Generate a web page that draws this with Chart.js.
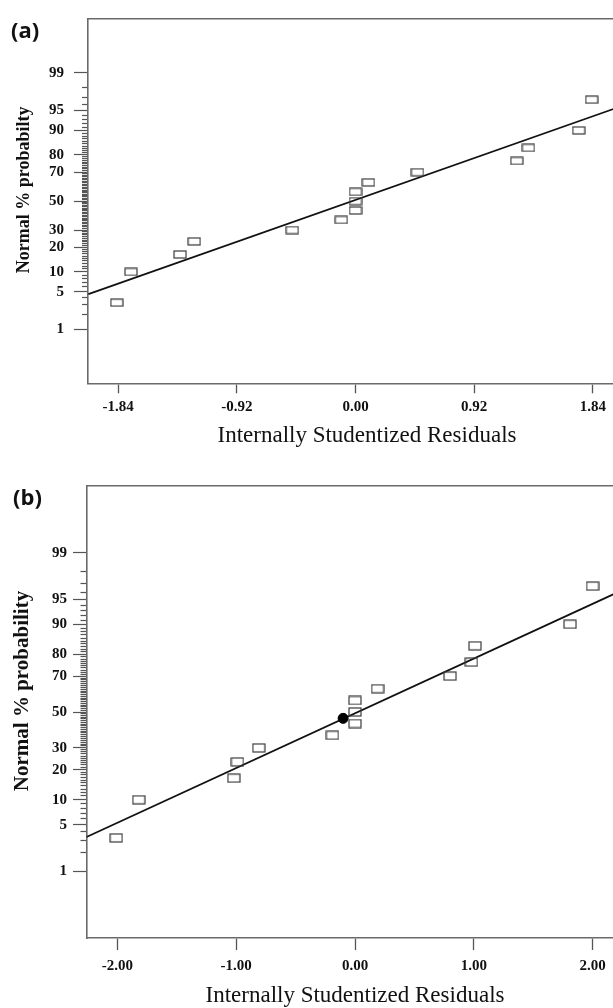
<!DOCTYPE html>
<html>
<head>
<meta charset="utf-8">
<script src="https://cdn.jsdelivr.net/npm/chart.js@4.4.1/dist/chart.umd.min.js"></script>
<style>
  html, body { margin: 0; padding: 0; background: #fff; overflow: hidden; }
  body { width: 613px; height: 1008px; position: relative; }
  canvas { position: absolute; left: 0; }
  .tag { position: absolute; font-family: "Open Sans", sans-serif; font-weight: bold; font-size: 22px; line-height: 1; color: #111; }
</style>
</head>
<body>
<canvas id="chartA" width="640" height="450" style="top:0"></canvas>
<canvas id="chartB" width="640" height="540" style="top:470px"></canvas>
<div class="tag" style="left:11px;top:18px">(a)</div>
<div class="tag" style="left:13px;top:485px">(b)</div>
<script>
// normal probability ticks (%)
var majorProbs = [1, 5, 10, 20, 30, 50, 70, 80, 90, 95, 99];

// panel (a)
var residA = [-1.85, -1.74, -1.36, -1.25, -0.49, -0.11, 0.00, 0.00, 0.00, 0.10, 0.48, 1.25, 1.34, 1.73, 1.83];
var probA = [3.3, 10, 16.7, 23.3, 30, 36.7, 43.3, 50, 56.7, 63.3, 70, 76.7, 83.3, 90, 96.7];
var lineResidA = [-2.07, 2.07];
var lineProbA = [4.6, 95.8];
var xTicksA = [-1.84, -0.92, 0.00, 0.92, 1.84];

// panel (b)
var residB = [-2.01, -1.82, -1.02, -0.99, -0.81, -0.19, 0.00, 0.00, 0.00, 0.19, 0.80, 0.98, 1.01, 1.81, 2.00];
var probB = [3.3, 10, 16.7, 23.3, 30, 36.7, 43.3, 50, 56.7, 63.3, 70, 76.7, 83.3, 90, 96.7];
var markResidB = [-0.10];
var markProbB = [46.3];
var lineResidB = [-2.26, 2.26];
var lineProbB = [3.4, 96.3];
var xTicksB = [-2.00, -1.00, 0.00, 1.00, 2.00];

var SERIF = "'Liberation Serif', 'Times New Roman', serif";

// inverse normal cdf (Acklam)
function probit(p) {
    var a = [-3.969683028665376e+01, 2.209460984245205e+02, -2.759285104469687e+02, 1.383577518672690e+02, -3.066479806614716e+01, 2.506628277459239e+00];
    var b = [-5.447609879822406e+01, 1.615858368580409e+02, -1.556989798598866e+02, 6.680131188771972e+01, -1.328068155288572e+01];
    var c = [-7.784894002430293e-03, -3.223964580411365e-01, -2.400758277161838e+00, -2.549671010229528e+00, 4.374664141464968e+00, 2.938163982698783e+00];
    var d = [7.784695709041462e-03, 3.224671290700398e-01, 2.445134137142996e+00, 3.754408661907416e+00];
    var pl = 0.02425, q, r;
    if (p < pl) {
        q = Math.sqrt(-2 * Math.log(p));
        return (((((c[0]*q+c[1])*q+c[2])*q+c[3])*q+c[4])*q+c[5]) / ((((d[0]*q+d[1])*q+d[2])*q+d[3])*q+1);
    }
    if (p > 1 - pl) {
        q = Math.sqrt(-2 * Math.log(1 - p));
        return -(((((c[0]*q+c[1])*q+c[2])*q+c[3])*q+c[4])*q+c[5]) / ((((d[0]*q+d[1])*q+d[2])*q+d[3])*q+1);
    }
    q = p - 0.5;
    r = q * q;
    return (((((a[0]*r+a[1])*r+a[2])*r+a[3])*r+a[4])*r+a[5])*q / (((((b[0]*r+b[1])*r+b[2])*r+b[3])*r+b[4])*r+1);
}

function toPoints(xs, ps) {
    return xs.map(function(x, i) {
        return { x: x, y: probit(ps[i] / 100) };
    });
}

// one tick per whole percent, labels only on the major ones
function probTicks() {
    var list = [];
    for (var p = 1; p <= 99; p++) {
        list.push({ value: probit(p / 100), lab: majorProbs.indexOf(p) >= 0 ? String(p) : "" });
    }
    return list;
}

function boxMarker(w, h) {
    var c = document.createElement("canvas");
    c.width = w + 2;
    c.height = h + 2;
    var g = c.getContext("2d");
    g.strokeStyle = "#3a3a3a";
    g.lineWidth = 1.2;
    g.strokeRect(1, 1, w, h);
    return c;
}

function makePanel(id, o) {
    var datasets = [{
        data: toPoints(o.resid, o.prob),
        pointStyle: boxMarker(o.boxW, o.boxH),
        pointRadius: 5,
        showLine: false,
        order: 0
    }, {
        type: "line",
        data: toPoints(o.lineResid, o.lineProb),
        borderColor: "#111",
        borderWidth: 1.8,
        pointRadius: 0,
        showLine: true,
        fill: false,
        order: 2
    }];
    if (o.markResid) {
        datasets.push({
            data: toPoints(o.markResid, o.markProb),
            pointStyle: "circle",
            pointRadius: 5,
            backgroundColor: "#000",
            borderColor: "#000",
            borderWidth: 1,
            showLine: false,
            order: 0
        });
    }

    return new Chart(document.getElementById(id), {
        type: "scatter",
        data: { datasets: datasets },
        options: {
            responsive: false,
            animation: false,
            devicePixelRatio: 1,
            layout: { padding: { top: 16, right: o.padRight, left: 0, bottom: 0 } },
            plugins: { legend: { display: false }, tooltip: { enabled: false } },
            scales: {
                x: {
                    type: "linear",
                    position: "bottom",
                    min: o.xMin,
                    max: o.xMax,
                    afterBuildTicks: function(s) { s.ticks = o.xTicks.map(function(v) { return { value: v }; }); },
                    afterFit: function(s) { s.height = o.xAxisH; },
                    ticks: {
                        autoSkip: false,
                        maxRotation: 0,
                        padding: o.xTickPad,
                        color: "#111",
                        font: { family: SERIF, weight: "bold", size: 15 },
                        callback: function(v) { return v.toFixed(2); }
                    },
                    grid: { drawOnChartArea: false, tickLength: o.xTickLen, tickColor: "#555", tickWidth: 1.3 },
                    border: { color: "#6a6a6a", width: 1.6 },
                    title: {
                        display: true,
                        text: o.xTitle,
                        color: "#111",
                        font: { family: SERIF, size: 23 },
                        padding: { top: 0, bottom: 0 }
                    }
                },
                xTop: {
                    type: "linear",
                    position: "top",
                    min: o.xMin,
                    max: o.xMax,
                    afterFit: function(s) { s.height = 0; },
                    ticks: { display: false },
                    grid: { drawOnChartArea: false, drawTicks: false },
                    border: { color: "#6a6a6a", width: 1.6 }
                },
                y: {
                    type: "linear",
                    min: -3.3,
                    max: 3.3,
                    afterBuildTicks: function(s) { s.ticks = probTicks(); },
                    afterFit: function(s) { s.width = o.yWidth; },
                    ticks: {
                        autoSkip: false,
                        padding: o.yTickPad,
                        color: "#111",
                        font: { family: SERIF, weight: "bold", size: 15 },
                        callback: function(v, i, t) { return t[i].lab; }
                    },
                    grid: {
                        drawOnChartArea: false,
                        tickLength: o.yTickLen,
                        tickColor: "#555",
                        tickWidth: 1.2,
                        tickBorderDash: function(ctx) {
                            return ctx.tick && ctx.tick.lab === "" ? [6, o.yTickLen - 6] : [];
                        },
                        tickBorderDashOffset: function(ctx) {
                            return ctx.tick && ctx.tick.lab === "" ? 6 : 0;
                        }
                    },
                    border: { color: "#6a6a6a", width: 1.6 },
                    title: {
                        display: true,
                        text: o.yTitle,
                        color: "#111",
                        font: { family: SERIF, weight: "bold", size: o.yTitleSize },
                        padding: { top: o.yTitlePad, bottom: 0 }
                    }
                }
            }
        }
    });
}

var NB = "\u00a0";

makePanel("chartA", {
    resid: residA, prob: probA,
    lineResid: lineResidA, lineProb: lineProbA,
    xTicks: xTicksA, xMin: -2.073, xMax: 2.073,
    boxW: 12, boxH: 7,
    padRight: 17, xAxisH: 66.7, xTickLen: 10, xTickPad: 5,
    yWidth: 88, yTickLen: 14, yTickPad: 10,
    xTitle: NB.repeat(4) + "Internally Studentized Residuals",
    yTitle: NB.repeat(5) + "Normal % probabilty",
    yTitleSize: 18, yTitlePad: 14
});

makePanel("chartB", {
    resid: residB, prob: probB,
    markResid: markResidB, markProb: markProbB,
    lineResid: lineResidB, lineProb: lineProbB,
    xTicks: xTicksB, xMin: -2.26, xMax: 2.26,
    boxW: 12, boxH: 8,
    padRight: 16.5, xAxisH: 72, xTickLen: 12, xTickPad: 7,
    yWidth: 86.5, yTickLen: 13.5, yTickPad: 6,
    xTitle: "Internally Studentized Residuals",
    yTitle: NB.repeat(8) + "Normal % probability",
    yTitleSize: 21, yTitlePad: 10
});
</script>
</body>
</html>
